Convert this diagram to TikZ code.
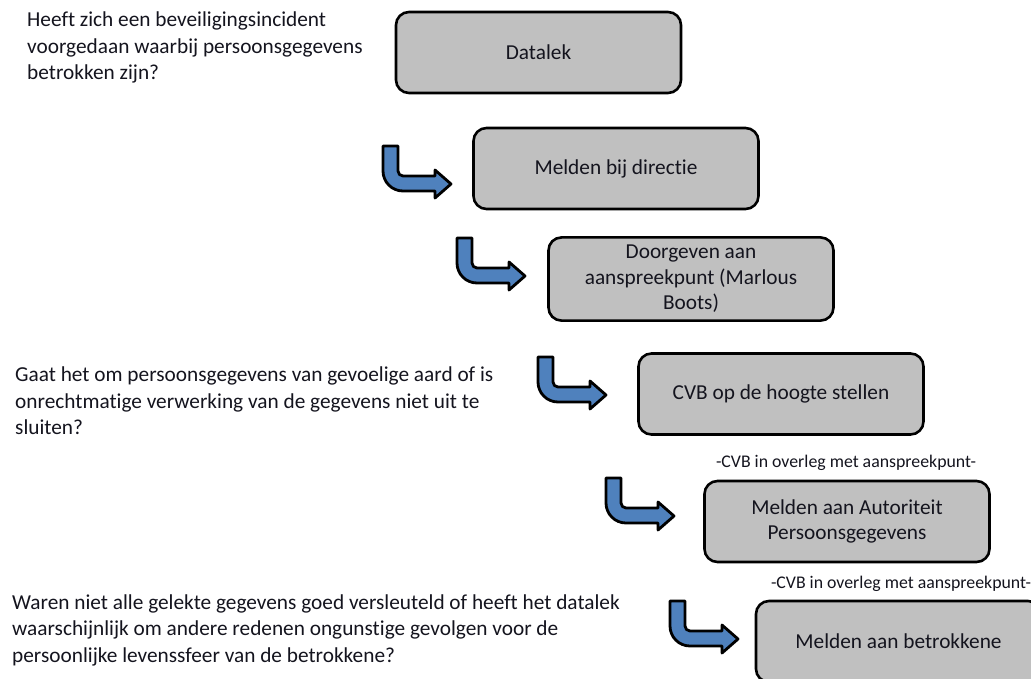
\documentclass[tikz,border=0pt]{standalone}
\usepackage{fontspec}
\setmainfont{Carlito}[Ligatures={NoCommon}]
\definecolor{boxgray}{RGB}{192,192,192}
\definecolor{arrowblue}{RGB}{79,129,189}
\definecolor{txt}{RGB}{20,20,30}
\tikzset{
  stepbox/.style={draw=black, line width=2.6pt, fill=boxgray, rounded corners=13pt,
    minimum width=285pt, minimum height=81pt, align=center, text=txt,
    font=\fontsize{21.3}{25.5}\selectfont},
  question/.style={anchor=north west, inner sep=0pt, align=left, text=txt,
    font=\fontsize{21.3}{26.5}\selectfont},
  note/.style={inner sep=0pt, text=txt, font=\fontsize{17.8}{20}\selectfont},
  arrowfill/.style={draw=black, line width=2.8pt, fill=arrowblue, line join=round},
  bentarrow/.pic={\draw[arrowfill] (0,0) -- (0,25) arc[start angle=180,end angle=90,radius=20]
      -- (52,45) -- (52,52) -- (68,38) -- (52,24) -- (52,30) -- (20,30)
      arc[start angle=90,end angle=180,radius=5] -- (15,0) -- cycle;}
}
\begin{document}
\begin{tikzpicture}[x=1pt,y=-1pt]
\useasboundingbox (0,0) rectangle (1031,678);
% boxes
\node[stepbox] (b1) at (538.5,52.5) {Datalek};
\node[stepbox] (b2) at (616,168.5) {Melden bij directie};
\node[stepbox] (b3) at (691,279) {\raisebox{-2.5pt}{\begin{tabular}{@{}c@{}}Doorgeven aan\\aanspreekpunt (Marlous\\Boots)\end{tabular}}};
\node[stepbox] (b4) at (781,394) {CVB op de hoogte stellen};
\node[stepbox] (b5) at (847,521.5) {Melden aan Autoriteit\\Persoonsgegevens};
\node[stepbox] (b6) at (898.5,641.5) {Melden aan betrokkene};
% notes
\node[note] (n1) at (846,463) {-CVB in overleg met aanspreekpunt-};
\node[note] (n2) at (901,584) {-CVB in overleg met aanspreekpunt-};
% questions
\node[question] (q1) at (27,12) {Heeft zich een beveiligingsincident\\voorgedaan waarbij persoonsgegevens\\betrokken zijn?};
\node[question] (q2) at (15,367) {Gaat het om persoonsgegevens van gevoelige aard of is\\onrechtmatige verwerking van de gegevens niet uit te\\sluiten?};
\node[question] (q3) at (12,594) {Waren niet alle gelekte gegevens goed versleuteld of heeft het datalek\\waarschijnlijk om andere redenen ongunstige gevolgen voor de\\persoonlijke levenssfeer van de betrokkene?};
% arrows
\pic at (383,146) {bentarrow};
\pic at (457,238) {bentarrow};
\pic at (538,357) {bentarrow};
\pic at (606,478) {bentarrow};
\pic at (670,601) {bentarrow};
\end{tikzpicture}
\end{document}
